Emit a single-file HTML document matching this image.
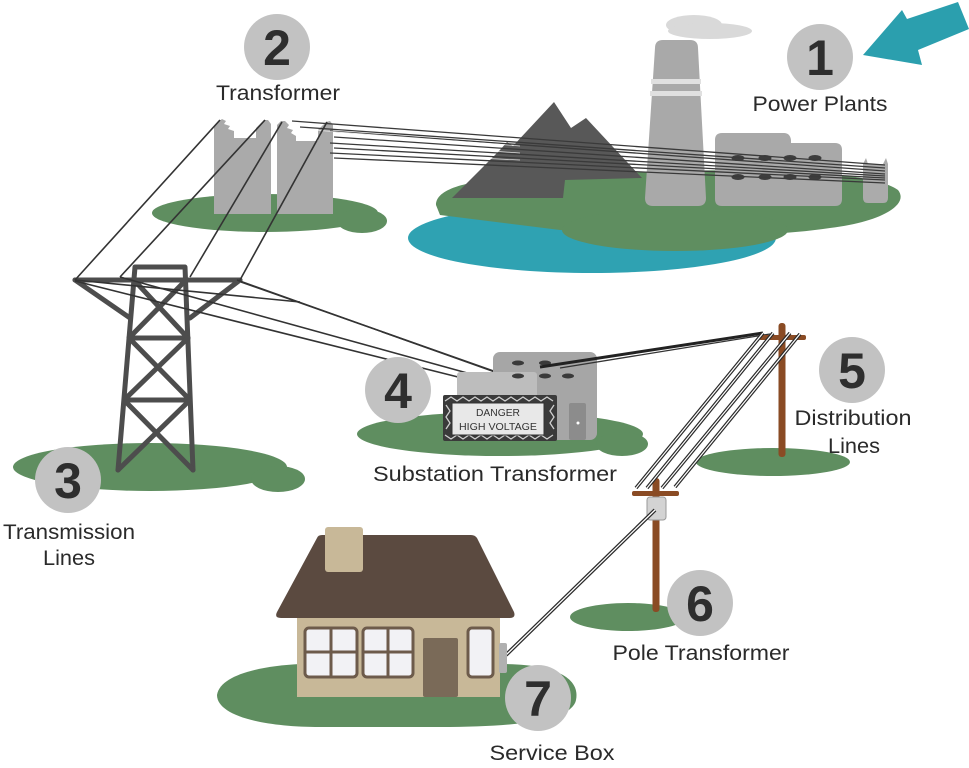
<!DOCTYPE html>
<html><head><meta charset="utf-8"><style>
html,body{margin:0;padding:0;background:#fff;}
svg{display:block;}
text{font-family:"Liberation Sans",sans-serif;}
</style></head><body>
<svg width="969" height="768" viewBox="0 0 969 768" xmlns="http://www.w3.org/2000/svg">
<rect width="969" height="768" fill="#fff"/>

<!-- ===== POWER PLANT ===== -->
<ellipse cx="592" cy="238" rx="184" ry="35" fill="#2fa2b2"/>
<path d="M436,205 C436,188 470,180 520,178 L640,172 C760,168 870,170 898,190 C910,205 880,222 830,228 C790,234 740,236 700,236 L560,230 L440,215 Z" fill="#5f8e60"/>
<ellipse cx="675" cy="230" rx="113" ry="21" fill="#5f8e60"/>
<polygon points="452,198 500,150 507,142 513,146 554,102 571,128 586,118 642,178 565,180 563,198" fill="#585858"/>
<!-- cloud -->
<ellipse cx="694" cy="25" rx="28" ry="10" fill="#d9d9d9"/>
<ellipse cx="710" cy="31" rx="42" ry="8" fill="#d9d9d9"/>
<!-- chimney -->
<path d="M655,48 Q655,40 663,40 L690,40 Q698,40 698,48 L706,198 Q706,206 698,206 L653,206 Q645,206 645,198 Z" fill="#a9a9a9"/>
<rect x="651" y="79" width="50" height="5" fill="#e0e0e0"/>
<rect x="650" y="91" width="52" height="5" fill="#e0e0e0"/>
<!-- building -->
<path d="M715,140 Q715,133 722,133 L784,133 Q790,133 791,140 L791,143 L835,143 Q842,143 842,150 L842,199 Q842,206 835,206 L722,206 Q715,206 715,199 Z" fill="#a9a9a9"/>
<g fill="#3d3d3d">
<ellipse cx="738" cy="158" rx="6.5" ry="3"/><ellipse cx="765" cy="158" rx="6.5" ry="3"/><ellipse cx="790" cy="158" rx="6.5" ry="3"/><ellipse cx="815" cy="158" rx="6.5" ry="3"/>
<ellipse cx="738" cy="177" rx="6.5" ry="3"/><ellipse cx="765" cy="177" rx="6.5" ry="3"/><ellipse cx="790" cy="177" rx="6.5" ry="3"/><ellipse cx="815" cy="177" rx="6.5" ry="3"/>
</g>
<path d="M863,164 L866,158 L868,164 L883,164 L886,158 L888,164 L888,198 Q888,203 883,203 L868,203 Q863,203 863,198 Z" fill="#ababab"/>
<!-- arrow -->
<polygon points="863,55 902,10 907,19 958,2 969,29 918,50 922,65" fill="#2b9fae"/>

<!-- ===== TRANSFORMER (2) ===== -->
<ellipse cx="265" cy="213" rx="113" ry="19" fill="#5f8e60"/>
<ellipse cx="362" cy="221" rx="25" ry="12" fill="#5f8e60"/>
<g fill="#aaaaaa">
<rect x="214" y="138" width="57" height="76"/>
<polygon points="214,140 214,126 218,122 222,119 226,121 224,124 230,126 228,129 234,131 234,140"/>
<polygon points="256,140 256,128 260,124 264,120 268,120 271,124 271,140"/>
<rect x="277" y="141" width="56" height="73"/>
<polygon points="277,143 277,125 281,121 285,121 289,125 287,128 293,130 291,133 296,136 296,143"/>
<polygon points="318,143 318,130 322,126 326,122 330,121 333,125 333,143"/>
</g>

<!-- wires transformer -> power plant -->
<g stroke="#3a3a3a" stroke-width="1.3" fill="none">
<line x1="292" y1="121" x2="885" y2="165"/>
<line x1="300" y1="127" x2="885" y2="168"/>
<line x1="330" y1="131" x2="885" y2="171"/>
<line x1="334" y1="137" x2="885" y2="174"/>
<line x1="330" y1="143" x2="885" y2="176"/>
<line x1="334" y1="148" x2="885" y2="178"/>
<line x1="330" y1="153" x2="885" y2="180"/>
<line x1="334" y1="158" x2="885" y2="183"/>
</g>
<g stroke="#ffffff" stroke-width="0.7" fill="none" opacity="0.8">
<line x1="300" y1="129" x2="520" y2="146"/>
<line x1="334" y1="140" x2="520" y2="153"/>
<line x1="334" y1="151" x2="520" y2="160"/>
</g>

<!-- ===== TOWER (3) ===== -->
<ellipse cx="150" cy="467" rx="137" ry="24" fill="#5f8e60"/>
<ellipse cx="278" cy="479" rx="27" ry="13" fill="#5f8e60"/>
<g stroke="#4d4d4d" stroke-width="5" fill="none" stroke-linejoin="round" stroke-linecap="round">
<path d="M118,470 L135,267 L185,267 L193,470"/>
<line x1="75" y1="280" x2="240" y2="280"/>
<line x1="75" y1="280" x2="130" y2="318"/>
<line x1="240" y1="280" x2="190" y2="318"/>
<line x1="129" y1="338" x2="188" y2="338"/>
<line x1="124" y1="400" x2="190" y2="400"/>
<line x1="134" y1="280" x2="188" y2="338"/>
<line x1="186" y1="280" x2="129" y2="338"/>
<line x1="129" y1="338" x2="190" y2="400"/>
<line x1="188" y1="338" x2="124" y2="400"/>
<line x1="124" y1="400" x2="193" y2="470"/>
<line x1="190" y1="400" x2="118" y2="470"/>
</g>
<!-- wires transformer -> tower -->
<g stroke="#333" stroke-width="1.6" fill="none">
<line x1="220" y1="120" x2="75" y2="280"/>
<line x1="265" y1="120" x2="120" y2="277"/>
<line x1="282" y1="122" x2="190" y2="277"/>
<line x1="327" y1="122" x2="240" y2="280"/>
</g>
<!-- wires tower -> substation -->
<g stroke="#333" stroke-width="1.6" fill="none">
<line x1="237" y1="280" x2="495" y2="372"/>
<line x1="241" y1="282" x2="502" y2="374"/>
<line x1="120" y1="277" x2="478" y2="376"/>
<line x1="75" y1="281" x2="462" y2="378"/>
<line x1="75" y1="280" x2="300" y2="302"/>
</g>

<!-- ===== SUBSTATION (4) ===== -->
<ellipse cx="500" cy="434" rx="143" ry="22" fill="#5f8e60"/>
<ellipse cx="622" cy="444" rx="26" ry="12" fill="#5f8e60"/>
<rect x="493" y="352" width="104" height="88" rx="7" fill="#a6a6a6"/>
<rect x="457" y="372" width="80" height="48" rx="3" fill="#bdbdbd"/>
<g fill="#3a3a3a">
<ellipse cx="518" cy="363" rx="6" ry="2.5"/><ellipse cx="545" cy="363" rx="6" ry="2.5"/>
<ellipse cx="518" cy="376" rx="6" ry="2.5"/><ellipse cx="545" cy="376" rx="6" ry="2.5"/><ellipse cx="568" cy="376" rx="6" ry="2.5"/>
</g>
<rect x="569" y="403" width="17" height="37" rx="2" fill="#8c8c8c"/>
<circle cx="578" cy="423" r="1.5" fill="#fff"/>
<rect x="443" y="395" width="114" height="46" rx="2" fill="#3a3a3a"/>
<polyline points="445,401 451,397 457,401 463,397 469,401 475,397 481,401 487,397 493,401 499,397 505,401 511,397 517,401 523,397 529,401 535,397 541,401 547,397 553,401" fill="none" stroke="#cfcfcf" stroke-width="1.3"/>
<polyline points="445,435 451,439 457,435 463,439 469,435 475,439 481,435 487,439 493,435 499,439 505,435 511,439 517,435 523,439 529,435 535,439 541,435 547,439 553,435" fill="none" stroke="#cfcfcf" stroke-width="1.3"/>
<polyline points="446,405 450,411 446,417 450,423 446,429" fill="none" stroke="#cfcfcf" stroke-width="1.3"/>
<polyline points="554,405 550,411 554,417 550,423 554,429" fill="none" stroke="#cfcfcf" stroke-width="1.3"/>
<rect x="452" y="403" width="92" height="32" fill="#e8e8e8" stroke="#333" stroke-width="1"/>
<text x="498" y="416" font-size="10" text-anchor="middle" fill="#333" textLength="44" lengthAdjust="spacingAndGlyphs">DANGER</text>
<text x="498" y="430" font-size="10" text-anchor="middle" fill="#333" textLength="78" lengthAdjust="spacingAndGlyphs">HIGH VOLTAGE</text>

<!-- substation -> pole 5 -->
<line x1="540" y1="367" x2="763" y2="333" stroke="#222" stroke-width="3"/>
<line x1="560" y1="368" x2="770" y2="334" stroke="#333" stroke-width="1.3"/>

<!-- ===== POLE 5 ===== -->
<ellipse cx="773" cy="462" rx="77" ry="14" fill="#5f8e60"/>
<rect x="778.5" y="323" width="7" height="134" rx="3" fill="#8a4b24"/>
<rect x="759" y="335" width="47" height="5" rx="2" fill="#8a4b24"/>

<!-- ===== POLE 6 ===== -->
<ellipse cx="628" cy="617" rx="58" ry="14" fill="#5f8e60"/>
<rect x="652.5" y="478" width="7" height="134" rx="3" fill="#8a4b24"/>
<rect x="632" y="491" width="47" height="5" rx="2" fill="#8a4b24"/>
<rect x="647" y="497" width="19" height="23" rx="3" fill="#d3d3d3" stroke="#9a9a9a" stroke-width="1"/>

<!-- distribution lines pole5 -> pole6 -->
<g fill="none">
<g stroke="#2a2a2a" stroke-width="3.6">
<line x1="763" y1="333" x2="636" y2="488"/>
<line x1="773" y1="333" x2="647" y2="488"/>
<line x1="790" y1="333" x2="662" y2="488"/>
<line x1="800" y1="334" x2="675" y2="487"/>
</g>
<g stroke="#ffffff" stroke-width="1.2">
<line x1="763" y1="333" x2="636" y2="488"/>
<line x1="773" y1="333" x2="647" y2="488"/>
<line x1="790" y1="333" x2="662" y2="488"/>
<line x1="800" y1="334" x2="675" y2="487"/>
</g>
</g>
<!-- pole6 -> house -->
<g fill="none">
<line x1="655" y1="510" x2="506" y2="655" stroke="#2a2a2a" stroke-width="3.8"/>
<line x1="655" y1="510" x2="506" y2="655" stroke="#fff" stroke-width="1.3"/>
</g>

<!-- ===== HOUSE ===== -->
<path d="M217,695 C220,675 260,666 300,664 L500,664 C560,664 580,680 576,700 C572,720 520,727 440,727 L320,727 C260,727 217,715 217,695 Z" fill="#5f8e60"/>
<path d="M317,538 Q318,535 322,535 L471,535 Q475,535 477,538 L514,612 Q516,618 510,618 L281,618 Q274,618 277,612 Z" fill="#5b4a40"/>
<rect x="325" y="527" width="38" height="45" rx="3" fill="#c8b898"/>
<rect x="297" y="618" width="203" height="79" fill="#c8b898"/>
<g stroke="#6d5b4b" stroke-width="3" fill="#f2f2f5">
<rect x="305" y="628" width="52" height="49" rx="4"/>
<rect x="363" y="628" width="50" height="49" rx="4"/>
<rect x="468" y="628" width="25" height="49" rx="4"/>
<line x1="331" y1="628" x2="331" y2="677"/>
<line x1="305" y1="652" x2="357" y2="652"/>
<line x1="388" y1="628" x2="388" y2="677"/>
<line x1="363" y1="652" x2="413" y2="652"/>
</g>
<rect x="423" y="638" width="35" height="59" rx="2" fill="#7a6a58"/>
<rect x="499" y="643" width="8" height="30" rx="2" fill="#b0b0b0"/>

<!-- ===== NUMBER CIRCLES ===== -->
<g fill="#c2c2c2">
<circle cx="820" cy="57" r="33"/>
<circle cx="277" cy="47" r="33"/>
<circle cx="68" cy="480" r="33"/>
<circle cx="398" cy="390" r="33"/>
<circle cx="852" cy="370" r="33"/>
<circle cx="700" cy="603" r="33"/>
<circle cx="538" cy="698" r="33"/>
</g>
<g font-size="50" font-weight="bold" fill="#2e2e2e" text-anchor="middle">
<text x="820" y="75">1</text>
<text x="277" y="65">2</text>
<text x="68" y="498">3</text>
<text x="398" y="408">4</text>
<text x="852" y="388">5</text>
<text x="700" y="621">6</text>
<text x="538" y="716">7</text>
</g>

<!-- ===== LABELS ===== -->
<g font-size="21" fill="#2a2a2a" text-anchor="middle">
<text x="278" y="100" textLength="124" lengthAdjust="spacingAndGlyphs">Transformer</text>
<text x="820" y="111" textLength="135" lengthAdjust="spacingAndGlyphs">Power Plants</text>
<text x="69" y="539" textLength="132" lengthAdjust="spacingAndGlyphs">Transmission</text>
<text x="69" y="565" textLength="52" lengthAdjust="spacingAndGlyphs">Lines</text>
<text x="495" y="481" textLength="244" lengthAdjust="spacingAndGlyphs">Substation Transformer</text>
<text x="853" y="425" textLength="117" lengthAdjust="spacingAndGlyphs">Distribution</text>
<text x="854" y="453" textLength="52" lengthAdjust="spacingAndGlyphs">Lines</text>
<text x="701" y="660" textLength="177" lengthAdjust="spacingAndGlyphs">Pole Transformer</text>
<text x="552" y="760" textLength="125" lengthAdjust="spacingAndGlyphs">Service Box</text>
</g>
</svg>
</body></html>
